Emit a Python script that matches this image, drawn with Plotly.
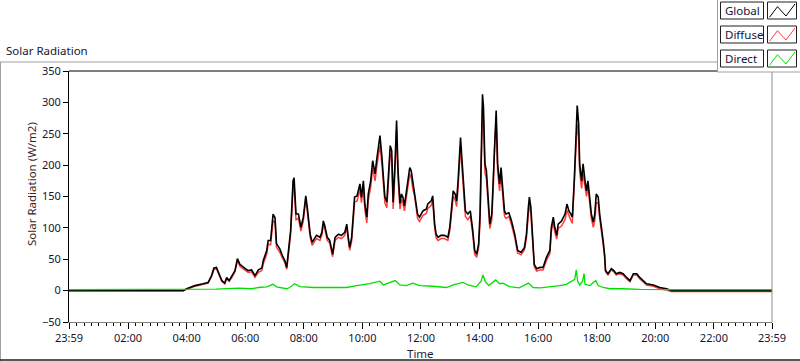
import plotly.graph_objects as go

# ---------------- data ----------------
DAY = "2024-01-02"
RANGE_START = "2024-01-01 23:59"
RANGE_END = "2024-01-02 23:59"

day_times = [
    "03:53", "04:00", "04:17", "04:34", "04:44", "04:51", "04:56", "05:01", "05:05", "05:12",
    "05:18", "05:22", "05:27", "05:32", "05:39", "05:44", "05:49", "05:59", "06:06", "06:13",
    "06:20", "06:27", "06:34", "06:37", "06:44", "06:47", "06:52", "06:57", "07:01", "07:04",
    "07:11", "07:16", "07:21", "07:25", "07:30", "07:33", "07:36", "07:38", "07:40", "07:44",
    "07:49", "07:54", "07:59", "08:04", "08:07", "08:13", "08:17", "08:26", "08:33", "08:37",
    "08:40", "08:43", "08:48", "08:53", "08:59", "09:04", "09:11", "09:17", "09:24", "09:28",
    "09:31", "09:34", "09:38", "09:41", "09:44", "09:49", "09:55", "09:58", "10:02", "10:05",
    "10:09", "10:12", "10:17", "10:21", "10:26", "10:29", "10:34", "10:36", "10:40", "10:43",
    "10:46", "10:50", "10:53", "10:57", "11:00", "11:03", "11:07", "11:10", "11:13", "11:17",
    "11:20", "11:23", "11:26", "11:30", "11:33", "11:37", "11:40", "11:43", "11:47", "11:50",
    "11:53", "11:57", "12:04", "12:11", "12:14", "12:21", "12:24", "12:28", "12:31", "12:35",
    "12:41", "12:48", "12:55", "12:59", "13:06", "13:10", "13:13", "13:16", "13:19", "13:21",
    "13:25", "13:28", "13:31", "13:36", "13:41", "13:46", "13:50", "13:54", "13:58", "14:01",
    "14:04", "14:06", "14:08", "14:11", "14:14", "14:18", "14:21", "14:25", "14:28", "14:31",
    "14:34", "14:37", "14:41", "14:44", "14:48", "14:51", "14:54", "15:00", "15:05", "15:12",
    "15:18", "15:25", "15:32", "15:36", "15:40", "15:42", "15:45", "15:48", "15:52", "15:57",
    "16:04", "16:10", "16:17", "16:24", "16:27", "16:31", "16:34", "16:38", "16:41", "16:48",
    "16:55", "16:59", "17:03", "17:07", "17:10", "17:14", "17:16", "17:20", "17:23", "17:25",
    "17:29", "17:32", "17:36", "17:39", "17:42", "17:46", "17:49", "17:53", "17:56", "17:59",
    "18:03", "18:06", "18:10", "18:13", "18:16", "18:18", "18:23", "18:30", "18:35", "18:40",
    "18:47", "18:54", "19:01", "19:08", "19:15", "19:22", "19:28", "19:35", "19:42", "19:56",
    "20:09", "20:23", "20:33",
]

global_vals = [
    0, 3, 8, 11, 13, 24, 36, 37, 29, 16,
    12, 21, 16, 22, 32, 51, 42, 36, 32, 33,
    24, 33, 36, 48, 64, 80, 80, 122, 116, 75,
    66, 56, 48, 37, 75, 96, 143, 175, 180, 122,
    122, 101, 117, 151, 133, 90, 77, 88, 85, 93,
    111, 103, 85, 80, 58, 85, 90, 88, 93, 106,
    85, 69, 85, 122, 149, 151, 170, 149, 175, 138,
    117, 154, 175, 207, 186, 207, 242, 247, 212, 180,
    149, 141, 180, 231, 223, 141, 207, 271, 191, 139,
    154, 149, 135, 159, 180, 196, 191, 175, 159, 138,
    122, 117, 127, 130, 138, 143, 151, 106, 90, 85,
    88, 88, 85, 101, 159, 154, 143, 175, 207, 244,
    196, 154, 127, 122, 127, 96, 64, 58, 74, 122,
    228, 313, 292, 202, 191, 133, 106, 122, 175, 255,
    287, 202, 170, 196, 154, 127, 122, 124, 112, 90,
    64, 61, 69, 90, 133, 149, 133, 90, 42, 35,
    37, 37, 53, 64, 101, 117, 101, 88, 106, 111,
    122, 138, 127, 122, 117, 175, 228, 295, 265, 202,
    175, 202, 175, 159, 175, 149, 122, 109, 122, 154,
    149, 122, 101, 80, 58, 32, 27, 35, 32, 27,
    29, 27, 21, 16, 27, 27, 21, 16, 11, 9,
    5, 3, 0,
]

diffuse_vals = [
    0, 2, 7, 10, 12, 22, 34, 35, 27, 15,
    11, 19, 15, 20, 30, 48, 39, 33, 29, 30,
    21, 29, 32, 43, 58, 74, 73, 112, 108, 69,
    61, 52, 45, 34, 70, 89, 133, 165, 169, 113,
    115, 95, 111, 145, 127, 85, 72, 83, 80, 88,
    106, 98, 80, 76, 54, 80, 85, 83, 88, 101,
    80, 64, 79, 115, 141, 143, 161, 140, 165, 129,
    108, 144, 165, 195, 175, 195, 228, 232, 202, 171,
    140, 132, 169, 218, 210, 130, 191, 256, 180, 130,
    145, 140, 127, 151, 170, 186, 180, 163, 150, 130,
    115, 110, 120, 123, 131, 136, 144, 100, 84, 80,
    83, 83, 80, 95, 150, 145, 134, 164, 195, 231,
    183, 143, 118, 113, 119, 90, 58, 53, 68, 110,
    210, 290, 270, 188, 178, 125, 99, 113, 162, 238,
    270, 190, 159, 184, 142, 119, 115, 118, 106, 85,
    60, 57, 65, 84, 122, 137, 124, 84, 38, 31,
    33, 33, 48, 59, 94, 109, 94, 82, 99, 103,
    113, 128, 118, 112, 107, 160, 205, 265, 245, 190,
    163, 186, 160, 150, 166, 141, 115, 101, 112, 140,
    140, 115, 95, 75, 55, 30, 25, 33, 30, 25,
    27, 25, 19, 14, 25, 25, 19, 14, 9, 7,
    3, 1, -1.5,
]

direct_times = [
    "04:00", "04:30", "05:00", "05:46", "06:13", "06:27", "06:44", "06:57", "07:04", "07:25",
    "07:31", "07:41", "07:52", "08:19", "08:53", "09:28", "09:48", "10:15", "10:36", "10:43",
    "10:57", "11:07", "11:17", "11:30", "11:43", "11:57", "12:24", "12:52", "13:06", "13:26",
    "13:36", "13:53", "14:03", "14:07", "14:12", "14:19", "14:33", "14:41", "14:48", "15:01",
    "15:21", "15:40", "15:50", "16:04", "16:44", "16:58", "17:15", "17:18", "17:21", "17:25",
    "17:31", "17:34", "17:36", "17:46", "17:58", "18:03", "18:13", "18:27", "18:54", "19:28",
    "20:30",
]
direct_vals = [
    1.5, 2, 2.5, 4, 3, 5, 6, 10, 6, 3,
    5, 11, 6.5, 5, 4.5, 5, 8, 11, 15, 9,
    13, 16, 9, 8, 12, 8, 7, 5, 9, 13,
    9, 6, 15, 25, 14, 8, 17, 11, 12, 6.5,
    4.5, 12, 5, 4.5, 8, 10, 18, 33, 15, 9,
    15, 27, 10, 8, 16, 8, 5, 3, 3, 2,
    1.5,
]

night_global = [0, 0]        # value at range start / range end
night_diffuse = [0, -1.5]
night_direct = [1.5, 1.5]

tick_labels = ["23:59", "02:00", "04:00", "06:00", "08:00", "10:00", "12:00",
               "14:00", "16:00", "18:00", "20:00", "22:00", "23:59"]
tick_times = [RANGE_START] + [DAY + " " + t for t in tick_labels[1:-1]] + [RANGE_END]

y_range = [-50, 350]
y_step = 50

series_names = ["Global", "Diffuse", "Direct"]
series_colors = {"Global": "#000000", "Diffuse": "#ff3c3c", "Direct": "#00e000"}

assert len(day_times) == len(global_vals) == len(diffuse_vals)
assert len(direct_times) == len(direct_vals)


def full_x(times):
    return [RANGE_START] + [DAY + " " + t for t in times] + [RANGE_END]


fig = go.Figure()
# drawing order: Diffuse under Global, Direct on top
fig.add_trace(go.Scatter(x=full_x(day_times), y=[night_diffuse[0]] + diffuse_vals + [night_diffuse[1]],
                         mode="lines", name="Diffuse",
                         line=dict(color=series_colors["Diffuse"], width=1.5)))
fig.add_trace(go.Scatter(x=full_x(day_times), y=[night_global[0]] + global_vals + [night_global[1]],
                         mode="lines", name="Global",
                         line=dict(color=series_colors["Global"], width=1.6)))
fig.add_trace(go.Scatter(x=full_x(direct_times), y=[night_direct[0]] + direct_vals + [night_direct[1]],
                         mode="lines", name="Direct",
                         line=dict(color=series_colors["Direct"], width=1.3)))

# ---------------- layout ----------------
W, H = 800, 361
L, R, T, B = 69, 28, 71, 39
PW, PH = W - L - R, H - T - B


def px(x):
    return (x - L) / PW


def py(y):
    return (H - B - y) / PH


FAMILY = "Noto Sans, Liberation Sans, Arial, sans-serif"
TICK_FONT = dict(family=FAMILY, size=11, color="#14142e")
TEXT_FONT = dict(family=FAMILY, size=11.5, color="#141432")

fig.update_layout(
    width=W, height=H, autosize=False,
    margin=dict(l=L, r=R, t=T, b=B, pad=0),
    paper_bgcolor="white", plot_bgcolor="white",
    showlegend=False,
    xaxis=dict(
        type="date", range=[RANGE_START, RANGE_END],
        tickmode="array", tickvals=tick_times, ticktext=tick_labels,
        ticks="outside", ticklen=6, tickwidth=1, tickcolor="black",
        showgrid=False, zeroline=False,
        showline=True, linecolor="#808080", linewidth=1,
        tickfont=TICK_FONT,
        minor=dict(ticks="outside", ticklen=3, tickwidth=1, tickcolor="black",
                   dtick=15 * 60 * 1000, tick0=DAY + " 00:00", showgrid=False),
    ),
    yaxis=dict(
        range=y_range, dtick=y_step, tick0=0,
        ticks="outside", ticklen=5, tickwidth=1, tickcolor="black",
        showgrid=False, zeroline=False,
        showline=True, linecolor="black", linewidth=1,
        tickfont=TICK_FONT,
    ),
)

shapes = []
# plot frame: top black, right grey
shapes.append(dict(type="line", xref="paper", yref="paper", x0=0, x1=1, y0=1, y1=1,
                   line=dict(color="black", width=1)))
shapes.append(dict(type="line", xref="paper", yref="paper", x0=1, x1=1, y0=0, y1=1,
                   line=dict(color="#8c8c8c", width=1)))
# outer control frame
shapes.append(dict(type="line", xref="paper", yref="paper", x0=px(0), x1=px(717), y0=py(62), y1=py(62),
                   line=dict(color="#a0a0a0", width=1)))
shapes.append(dict(type="line", xref="paper", yref="paper", x0=px(0.5), x1=px(0.5), y0=py(62), y1=py(361),
                   line=dict(color="#a0a0a0", width=1)))
shapes.append(dict(type="line", xref="paper", yref="paper", x0=px(0), x1=px(800), y0=py(360), y1=py(360),
                   line=dict(color="#202020", width=1.5)))
# legend panel
shapes.append(dict(type="rect", xref="paper", yref="paper", x0=px(717.5), x1=px(802), y0=py(72), y1=py(-2),
                   line=dict(color="#a0a0a0", width=1), fillcolor="white"))

annotations = []
row_tops = [2, 26, 50]
for name, top in zip(series_names, row_tops):
    bot = top + 17
    shapes.append(dict(type="rect", xref="paper", yref="paper", x0=px(720.5), x1=px(763.5),
                       y0=py(bot), y1=py(top), line=dict(color="#202020", width=1), fillcolor="white"))
    shapes.append(dict(type="rect", xref="paper", yref="paper", x0=px(767.5), x1=px(796.5),
                       y0=py(bot), y1=py(top), line=dict(color="#202020", width=1), fillcolor="white"))
    pts = [(769.5, top + 15.3), (777.5, top + 4.7), (786, top + 14), (795, top + 2)]
    path = "M " + " L ".join(f"{px(a):.5f},{py(b):.5f}" for a, b in pts)
    shapes.append(dict(type="path", xref="paper", yref="paper", path=path,
                       line=dict(color=series_colors[name], width=1)))
    annotations.append(dict(text=name, xref="paper", yref="paper", x=px(722.5), y=py(top + 8.5),
                            xanchor="left", yanchor="middle", showarrow=False, font=TEXT_FONT))

annotations.append(dict(text="Solar Radiation", xref="paper", yref="paper", x=px(4), y=py(50),
                        xanchor="left", yanchor="middle", showarrow=False, font=TEXT_FONT))
annotations.append(dict(text="Solar Radiation (W/m2)", xref="paper", yref="paper", x=px(31), y=py(184),
                        xanchor="center", yanchor="middle", showarrow=False, textangle=-90,
                        font=dict(family=FAMILY, size=11.5, color="#3c1e1e")))
annotations.append(dict(text="Time", xref="paper", yref="paper", x=px(420), y=py(353),
                        xanchor="center", yanchor="middle", showarrow=False,
                        font=dict(family=FAMILY, size=11.5, color="#1e1e3c")))

fig.update_layout(shapes=shapes, annotations=annotations)

fig.write_html("out.html",
               config={"displayModeBar": False},
               post_script="document.body.style.margin='0px';document.body.style.padding='0px';")
